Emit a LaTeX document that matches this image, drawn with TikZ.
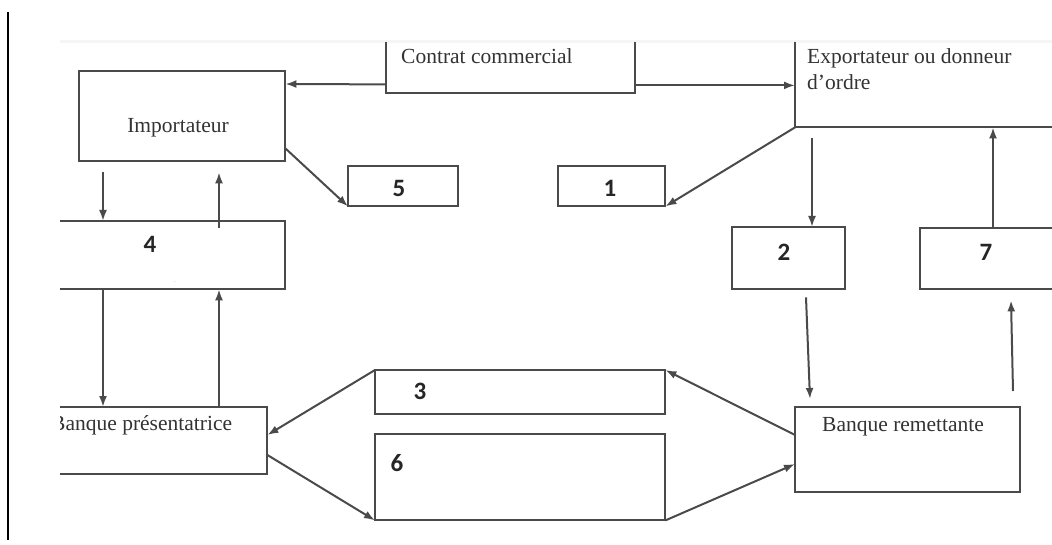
\documentclass[tikz,border=0pt]{standalone}
\usepackage{fontspec}
\setmainfont{Liberation Serif}
\newfontfamily\numfont{Carlito}[BoldFont={Carlito Bold}]
\usetikzlibrary{arrows.meta,calc}
\definecolor{ln}{HTML}{4A4A4A}
\definecolor{tx}{HTML}{333333}
\tikzset{
  frame/.style={draw=none,rectangle,inner sep=0pt,anchor=north west},
  edge/.style={draw=ln,line width=2pt},
  conn/.style={draw=ln,line width=2pt,-{Latex[length=11pt,width=8pt]}},
  lbl/.style={text=tx,inner sep=0pt,font=\fontsize{21.5}{25}\selectfont},
  num/.style={text=black!85,inner sep=0pt,font=\numfont\bfseries\fontsize{25}{28}\selectfont}
}
\begin{document}
\begin{tikzpicture}[x=1pt,y=-1pt]
\useasboundingbox[fill=white] (0,0) rectangle (1052,545);
% faint crop edge and left rule
\draw[gray!8,line width=3pt] (60,42) -- (1052,42);
\draw[black,line width=2pt] (8,12) -- (8,540);
% box frames (named)
\node[frame,minimum width=206pt,minimum height=90pt] (imp) at (79,71) {};
\node[frame,minimum width=249pt,minimum height=51pt] (con) at (386,42) {};
\node[frame,minimum width=257pt,minimum height=85pt] (exp) at (795,42) {};
\node[frame,minimum width=110pt,minimum height=40pt] (b5) at (348,166) {};
\node[frame,minimum width=107pt,minimum height=40pt] (b1) at (558,166) {};
\node[frame,minimum width=225pt,minimum height=68pt] (b4) at (60,221) {};
\node[frame,minimum width=113pt,minimum height=62pt] (b2) at (732,227) {};
\node[frame,minimum width=132pt,minimum height=61pt] (b7) at (920,228) {};
\node[frame,minimum width=207pt,minimum height=67pt] (bp) at (60,407) {};
\node[frame,minimum width=290pt,minimum height=44pt] (b3) at (375,370) {};
\node[frame,minimum width=290pt,minimum height=86pt] (b6) at (375,434) {};
\node[frame,minimum width=225pt,minimum height=85pt] (br) at (795,407) {};
% visible borders
\draw[edge] (imp.north west) rectangle (imp.south east);
\draw[edge] (con.north west) -- (con.south west) -- (con.south east) -- (con.north east);
\draw[edge] (exp.north west) -- (exp.south west) -- (exp.south east);
\draw[edge] (b5.north west) rectangle (b5.south east);
\draw[edge] (b1.north west) rectangle (b1.south east);
\draw[edge] (b4.north west) -- (b4.north east) -- (b4.south east) -- (b4.south west);
\draw[edge] (b2.north west) rectangle (b2.south east);
\draw[edge] (b7.north east) -- (b7.north west) -- (b7.south west) -- (b7.south east);
\draw[edge] (bp.north west) -- (bp.north east) -- (bp.south east) -- (bp.south west);
\draw[edge] (b3.north west) rectangle (b3.south east);
\draw[edge] (b6.north west) rectangle (b6.south east);
\draw[edge] (br.north west) rectangle (br.south east);
% texts
\node[lbl] (timp) at (178,128) {Importateur};
\node[lbl,anchor=west] (tcon) at (401,56) {Contrat commercial};
\node[lbl,anchor=west] (texp1) at (807,58) {Exportateur ou donneur};
\node[lbl,anchor=west] (texp2) at (807,82) {d’ordre};
\begin{scope}
\clip (60,400) rectangle (270,480);
\node[lbl,anchor=west] (tbp) at (51,425) {Banque présentatrice};
\end{scope}
\node[lbl,anchor=west] (tbr) at (822,427) {Banque remettante};
\node[num] (n5) at (399,188) {5};
\node[num] (n1) at (610,188) {1};
\node[num] (n4) at (150,244) {4};
\node[num] (n2) at (784,252) {2};
\node[num] (n7) at (986,252) {7};
\node[num] (n3) at (420,391) {3};
\node[num] (n6) at (397,463) {6};
\node[text=gray!60,inner sep=0pt,font=\tiny] (dash) at (175,283) {-};
% connectors
\draw[conn] ($(con.south west)+(0,-9)$) -- ($(imp.north east)+(0,13)$);
\draw[conn] ($(con.south east)+(0,-8)$) -- ($(exp.south west)+(0,-42)$);
\draw[conn] ($(imp.south east)+(0,-13)$) -- (b5.south west);
\draw[conn] (exp.south west) -- (b1.south east);
\draw[conn] ($(imp.south west)+(24,11)$) -- ($(b4.north west)+(43,0)$);
\draw[conn] ($(b4.north west)+(159,7)$) -- ($(imp.south west)+(140,11)$);
\draw[conn] ($(b4.south west)+(43,0)$) -- ($(bp.north west)+(43,0)$);
\draw[conn] ($(bp.north west)+(159,0)$) -- ($(b4.south west)+(159,0)$);
\draw[conn] ($(exp.south west)+(17,11)$) -- ($(b2.north west)+(80,0)$);
\draw[conn] ($(b7.north west)+(73,0)$) -- ($(exp.south west)+(198,0)$);
\draw[conn] ($(b2.south west)+(74,8)$) -- ($(br.north west)+(15,-8)$);
\draw[conn] ($(br.north west)+(218,-16)$) -- ($(b7.south west)+(91,11)$);
\draw[conn] ($(br.north west)+(0,28)$) -- (b3.north east);
\draw[conn] (b6.south east) -- ($(br.north west)+(0,57)$);
\draw[conn] (b3.north west) -- ($(bp.north east)+(0,28)$);
\draw[conn] ($(bp.north east)+(0,48)$) -- (b6.south west);
\end{tikzpicture}
\end{document}
